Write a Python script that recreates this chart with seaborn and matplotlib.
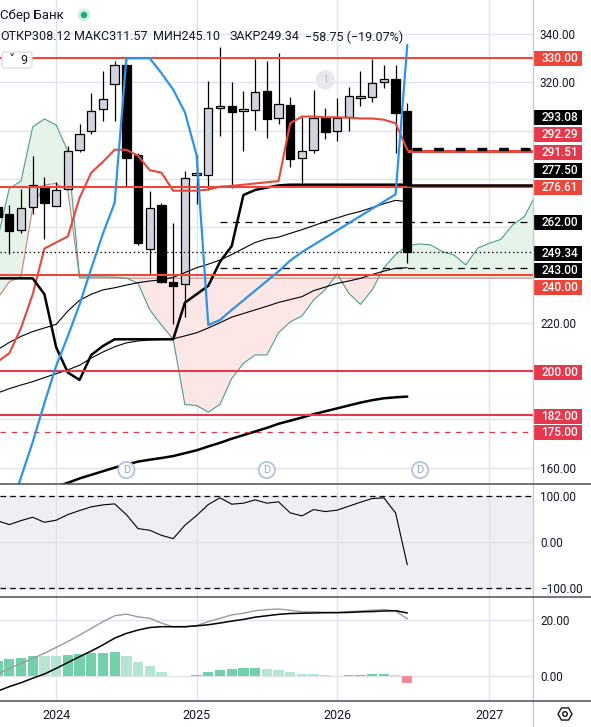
import numpy as np
import pandas as pd
import matplotlib
matplotlib.use("Agg")
import matplotlib.pyplot as plt
import matplotlib.transforms as mtransforms
from matplotlib.patches import Rectangle, Circle, FancyBboxPatch, RegularPolygon
import seaborn as sns

# ---------------- data ----------------
opens  = [268.4, 265.2, 258.7, 268.1, 276.8, 268.7, 275.6, 291.8, 299.7, 309.0, 319.5, 327.2,
          289.9, 250.6, 268.9, 237.0, 236.4, 281.5, 281.5, 309.5, 310.2, 308.3, 308.4, 316.4,
          305.1, 310.6, 288.5, 291.8, 305.1, 300.0, 305.5, 313.6, 314.1, 320.1, 321.4, 308.12]
highs  = [269.5, 269.1, 275.6, 289.4, 280.6, 278.8, 293.6, 302.7, 315.6, 324.9, 328.9, 330.2,
          290.5, 274.8, 270.0, 261.5, 283.2, 289.9, 320.6, 334.8, 320.1, 316.4, 329.5, 328.9,
          332.1, 313.8, 305.8, 316.9, 309.5, 313.4, 318.2, 324.9, 329.6, 327.2, 327.2, 311.57]
lows   = [263.0, 248.6, 257.3, 265.2, 254.8, 268.7, 275.6, 291.0, 298.7, 304.0, 304.0, 276.7,
          252.5, 240.0, 236.5, 219.5, 222.7, 269.4, 275.3, 297.9, 276.0, 291.6, 300.2, 297.0,
          302.7, 285.0, 278.1, 290.6, 296.5, 295.8, 300.0, 310.3, 312.0, 317.6, 290.6, 245.10]
closes = [264.2, 258.4, 268.0, 277.3, 269.8, 275.4, 291.6, 298.5, 308.0, 313.1, 327.1, 288.7,
          253.2, 268.0, 237.2, 235.6, 280.4, 282.4, 309.3, 309.9, 307.8, 308.6, 315.9, 304.7,
          310.9, 288.1, 291.4, 305.1, 299.5, 305.1, 314.2, 314.0, 319.6, 321.4, 307.4, 249.34]

kijun = [204.0, 207.5, 218.0, 232.0, 251.0, 253.5, 256.0, 272.0, 282.5, 287.0, 292.0, 292.0,
         289.5, 283.5, 282.5, 275.0, 275.0, 275.0, 275.5, 276.7, 277.0, 277.5, 278.0, 278.5,
         279.0, 303.0, 305.8, 305.8, 305.5, 305.5, 305.3, 305.0, 305.0, 304.5, 303.0, 292.0]
tenkan = [238.6, 238.6, 238.6, 238.6, 232.0, 210.0, 199.5, 196.4, 206.8, 210.5, 213.3, 213.3,
          213.3, 213.3, 213.3, 213.3, 228.5, 232.0, 235.5, 245.5, 252.0, 273.2, 275.3, 276.3,
          277.2, 277.5, 277.5, 277.5, 277.5, 277.5, 277.5, 277.5, 277.5, 277.5, 277.5, 277.5]
blue_line = [np.nan, 141.5, 156.0, 170.6, 186.8, 202.2, 214.6, 227.7, 242.7, 257.2, 270.0, 330.0,
             330.0, 330.0, 323.8, 317.0, 307.6, 289.8, 219.2, 221.3, 225.5, 229.5, 233.5, 237.5,
             241.5, 246.0, 249.5, 252.5, 255.5, 258.5, 261.5, 264.5, 267.5, 270.5, 273.5, 335.5]
ma_fast = [209.0, 212.0, 214.5, 216.5, 218.0, 219.5, 225.0, 229.5, 232.0, 233.8, 234.7, 235.8,
           236.8, 237.5, 238.0, 239.0, 241.0, 243.0, 244.5, 246.2, 248.5, 251.0, 253.5, 255.0,
           255.7, 257.3, 258.8, 260.5, 262.2, 263.7, 265.2, 266.4, 268.0, 269.6, 271.0, 270.4]
ma_mid = [191.0, 192.8, 194.3, 195.7, 197.4, 199.0, 200.6, 202.5, 205.5, 208.0, 210.2, 211.8,
          212.6, 213.0, 213.2, 213.5, 214.7, 216.0, 218.0, 220.2, 222.5, 224.0, 225.5, 227.0,
          228.6, 229.8, 231.0, 233.5, 235.0, 236.5, 237.5, 238.6, 240.2, 241.6, 242.8, 243.0]
ma_slow = [np.nan, np.nan, np.nan, np.nan, np.nan, 152.0, 153.7, 155.5, 157.0, 158.5, 160.0, 161.3,
           162.5, 163.3, 164.0, 164.8, 166.0, 167.2, 168.8, 170.3, 172.0, 173.5, 175.0, 176.5,
           178.2, 179.5, 180.8, 182.2, 183.4, 184.6, 185.8, 187.0, 188.0, 188.8, 189.2, 189.5]
span_a = [255.0, 276.0, 279.0, 301.5, 304.8, 302.3, 291.5, 239.2, 239.2, 239.2, 239.1, 238.7,
          236.5, 225.5, 219.2, 213.3, 186.2, 185.8, 183.0, 186.3, 197.0, 203.3, 206.8, 206.8,
          216.0, 220.5, 223.0, 229.6, 234.0, 240.5, 232.4, 227.8, 233.8, 243.0, 248.5, 252.2,
          252.9, 252.5, 249.7, 248.3, 244.2, 251.1, 253.2, 254.8, 260.8, 264.2, 273.5]
span_b = [230.3, 237.2, 239.3, 268.0, 277.4, 278.0, 275.0] + [238.7] * 40

cci = [46.0, 37.8, 46.5, 53.8, 42.9, 47.3, 59.6, 68.4, 76.4, 80.7, 82.9, 59.6, 29.1, 25.5, 14.5,
       7.3, 36.4, 57.5, 81.5, 96.0, 82.2, 84.4, 91.6, 84.4, 87.3, 63.3, 56.7, 70.5, 66.2, 69.1,
       77.8, 86.5, 94.5, 96.0, 63.3, -49.5]
macd_hist = [5.4, 6.2, 6.5, 7.3, 7.28, 7.25, 7.6, 8.0, 8.1, 8.3, 8.7, 7.3, 5.1, 3.7, 1.5, -0.15,
             0.1, 0.36, 1.4, 2.1, 2.6, 2.9, 3.0, 2.6, 2.3, 1.5, 0.7, 0.68, 0.36, 0.1, 0.36, 0.4,
             0.7, 0.72, 0.36, -2.4]
macd_line = [0.6, 2.7, 4.5, 6.3, 8.1, 10.2, 12.3, 14.6, 17.0, 19.4, 21.5, 22.1, 21.1, 20.6, 18.9,
             17.5, 17.5, 18.0, 19.4, 20.6, 21.8, 22.4, 23.3, 23.7, 23.9, 23.5, 22.9, 22.9, 22.7,
             22.7, 23.0, 23.2, 23.5, 23.7, 23.2, 20.4]
macd_signal = [-5.4, -3.8, -2.4, -0.8, 0.7, 2.7, 4.8, 6.9, 8.9, 11.1, 13.5, 15.2, 16.4, 17.3, 17.6,
               17.6, 17.6, 17.9, 18.3, 18.9, 19.6, 20.2, 21.0, 21.5, 22.0, 22.3, 22.4, 22.5, 22.6,
               22.6, 22.7, 22.9, 23.0, 23.2, 23.3, 22.5]

year_labels = ["2024", "2025", "2026", "2027"]
year_pos = [5, 17, 29, 42]

red_levels_a = [330.0, 276.61, 240.0]
red_levels_b = [200.0, 182.0]
red_dashed_level = 175.0
black_dashed_levels = [262.0, 243.0]
last_price = 249.34
kijun_level = 291.51
black_kijun_level = 292.29
tenkan_level = 277.5

tag_texts = ["330.00", "293.08", "292.29", "291.51", "277.50", "276.61", "262.00",
             "249.34", "243.00", "240.00", "200.00", "182.00", "175.00"]
tag_kind = ["a", "k", "b", "b", "k", "a", "k", "k", "k", "a", "b", "b", "b"]
tag_at = [330.0, 305.35, 298.16, 290.98, 283.2, 276.27, 261.73, 249.0, 241.8, 234.7,
          199.6, 181.4, 174.5]

div_pos = [11, 23, 36.1]
header_name = "Сбер Банк"
header_items = ["ОТКР308.12", "МАКС311.57", "МИН245.10", "ЗАКР249.34", "−58.75 (−19.07%)"]

# ---------------- style ----------------
sns.set_theme(style="white")
plt.rcParams["font.family"] = ["Roboto", "DejaVu Sans"]
plt.rcParams["lines.scale_dashes"] = False
plt.rcParams["axes.unicode_minus"] = True

RED_A = "#f0453a"
RED_B = "#e5384c"
BLACK = "#000000"
GRID = "#e0e3eb"
TXT = "#131722"

W, H = 591, 727
fig = plt.figure(figsize=(W / 100, H / 100), dpi=100)
fig.patch.set_facecolor("white")


def axrect(x0, y0, x1, y1):
    return [x0 / W, 1 - y1 / H, (x1 - x0) / W, (y1 - y0) / H]


ax = fig.add_axes(axrect(0, 0, 533, 484))
ax2 = fig.add_axes(axrect(0, 484, 533, 597), sharex=ax)
ax3 = fig.add_axes(axrect(0, 597, 533, 701), sharex=ax)

idx = np.arange(len(opens))
cidx = np.arange(len(span_a))


def line(a, x, y, **kw):
    sns.lineplot(x=x, y=np.asarray(y, dtype=float), ax=a, estimator=None, sort=False,
                 legend=False, **kw)


for a in (ax, ax2, ax3):
    a.set_facecolor("white")
    for s in a.spines.values():
        s.set_visible(False)
    a.yaxis.tick_right()
    a.tick_params(axis="both", length=0, labelsize=8.5, colors=TXT, pad=5)
    a.grid(True, color=GRID, lw=1)
    a.set_axisbelow(True)

# ---------------- main panel ----------------
A = np.array(span_a)
B = np.array(span_b)
ax.fill_between(cidx, A, B, where=A >= B, interpolate=True, color="#e6f3e9", lw=0, zorder=1)
ax.fill_between(cidx, A, B, where=A < B, interpolate=True, color="#fde6e6", lw=0, zorder=1)
line(ax, cidx, span_b, color="#c0857a", lw=0.8, zorder=1.5)
line(ax, cidx, span_a, color="#4f9c89", lw=0.8, zorder=1.5)

# candles (below indicator lines, as in the reference)
o = np.array(opens); c = np.array(closes)
bull = c >= o
bottoms = np.minimum(o, c)
heights = np.maximum(np.abs(c - o), 0.8)
ax.vlines(idx, lows, highs, color=BLACK, lw=0.9, zorder=2)
ax.bar(idx, heights, bottom=bottoms, width=0.71,
       color=np.where(bull, "#d1d4dc", BLACK), edgecolor=BLACK, linewidth=0.9, zorder=2.2)

line(ax, idx, ma_slow, color=BLACK, lw=1.8, zorder=3)
line(ax, idx, ma_mid, color=BLACK, lw=0.8, zorder=3)
line(ax, idx, ma_fast, color=BLACK, lw=0.8, zorder=3)
line(ax, idx, kijun, color="#e8473b", lw=1.5, zorder=3.2)
line(ax, idx, tenkan, color=BLACK, lw=1.8, zorder=3.3)

# levels
xr = 46.5
for lv in red_levels_a:
    ax.axhline(lv, color=RED_A, lw=1.5, zorder=6)
for lv in red_levels_b:
    ax.axhline(lv, color=RED_B, lw=1.5, zorder=6)
ax.axhline(red_dashed_level, color=RED_B, lw=0.9, ls=(0, (4, 4)), zorder=6)
for lv in black_dashed_levels:
    ax.hlines(lv, 19, xr, color=BLACK, lw=0.9, linestyles=[(0, (5, 4))], zorder=6)
ax.axhline(last_price, color=BLACK, lw=0.9, ls=(0, (1, 2)), zorder=6)
ax.hlines(tenkan_level, len(opens) - 1, xr, color=BLACK, lw=1.8, zorder=6)
ax.hlines(kijun_level, len(opens) - 1, xr, color="#e8473b", lw=2.2, zorder=6)
ax.hlines(black_kijun_level, len(opens) - 0.6, xr, color=BLACK, lw=2.4,
          linestyles=[(0, (7, 8.6))], zorder=7)

line(ax, idx, blue_line, color="#2e93e6", lw=1.6, zorder=7.5)

# markers (dividends / idea)
for p in div_pos:
    ax.text(p, 159.0, "D", ha="center", va="center", fontsize=8, color="#93a9cc",
            bbox=dict(boxstyle="circle,pad=0.28", fc="white", ec="#b3c3dc", lw=1.3), zorder=8)
ax.text(28, 321.0, "I", ha="center", va="center", fontsize=7.5, color="#b0b5c0",
        bbox=dict(boxstyle="circle,pad=0.45", fc="#e7e9ee", ec="none"), zorder=8)

ax.set_xlim(0.205, 45.74)
ax.set_ylim(153.2, 354.2)
yt = np.arange(160, 341, 20)
ax.set_yticks(yt)
ax.set_yticklabels([f"{v:.2f}" if v in (160, 220, 320, 340) else "" for v in yt])
ax.set_xticks(year_pos)
ax.tick_params(labelbottom=False)
ax.set_xlabel(""); ax.set_ylabel("")

# price tags
trans = mtransforms.blended_transform_factory(ax.transAxes, ax.transData)
tag_h = 15 / 2.407
for t, k, p in zip(tag_texts, tag_kind, tag_at):
    col = {"a": RED_A, "b": RED_B, "k": BLACK}[k]
    ax.add_patch(Rectangle((1 + 1 / 533, p - tag_h / 2), 48 / 533, tag_h, transform=trans,
                           fc=col, ec="none", clip_on=False, zorder=20))
    ax.text(1 + 8 / 533, p, t, transform=trans, ha="left", va="center", color="white",
            fontsize=8.5, fontweight="medium", clip_on=False, zorder=21)

# ---------------- CCI panel ----------------
ax2.axhspan(-100, 100, color="#eeeff3", zorder=0.3, lw=0)
ax2.axhline(100, color=BLACK, lw=0.9, ls=(0, (4, 3)), zorder=2)
ax2.axhline(-100, color=BLACK, lw=0.9, ls=(0, (4, 3)), zorder=2)
line(ax2, idx, cci, color=BLACK, lw=0.8, zorder=3)
ax2.set_ylim(-119.6, 126.1)
ax2.set_yticks([-100, 0, 100])
ax2.set_yticklabels(["−100.00", "0.00", "100.00"])
ax2.tick_params(labelbottom=False)
ax2.set_xlabel(""); ax2.set_ylabel("")

# ---------------- MACD panel ----------------
hist = np.array(macd_hist)
prev = np.concatenate([[hist[0] - 1], hist[:-1]])
cols = np.where(hist >= 0, np.where(hist >= prev, "#74d0ab", "#b5e6d3"),
                np.where(hist >= prev, "#f7c3ca", "#ec8d99"))
ax3.bar(idx, hist, width=0.88, color=cols, lw=0, zorder=2)
line(ax3, idx, macd_line, color="#9a9a9a", lw=1.0, zorder=3)
line(ax3, idx, macd_signal, color=BLACK, lw=1.1, zorder=3)
ax3.set_ylim(-8.93, 28.2)
ax3.set_yticks([0, 20])
ax3.set_yticklabels(["0.00", "20.00"])
ax3.set_xticks(year_pos)
ax3.set_xticklabels(year_labels)
ax3.tick_params(axis="x", labelsize=9, pad=6)
ax3.set_xlabel(""); ax3.set_ylabel("")
ax.set_xlim(0.205, 45.74)

# ---------------- overlay (frame, header) ----------------
ov = fig.add_axes([0, 0, 1, 1], zorder=50)
ov.set_xlim(0, W); ov.set_ylim(H, 0)
ov.axis("off")
ov.patch.set_alpha(0)
ov.plot([533, 533], [0, H], color="#c9ccd4", lw=1)
for yy in (484, 597, 701):
    ov.plot([0, W], [yy, yy], color="#4a4e5a", lw=1.1)

ov.text(0, 15, header_name, ha="left", va="center", fontsize=9.5, color=TXT)
ov.add_patch(Circle((84, 15), 6.5, fc="#d6efe4", ec="none"))
ov.add_patch(Circle((84, 15), 3.3, fc="#22ab78", ec="none"))
for s, xx in zip(header_items, [0, 74, 153, 229, 305]):
    ov.text(xx, 37, s, ha="left", va="center", fontsize=9, color=TXT)

ov.add_patch(FancyBboxPatch((2, 52), 30, 16, boxstyle="round,pad=0,rounding_size=3",
                            fc="white", ec="#d9dce3", lw=1))
ov.text(12, 60, "˅", ha="center", va="center", fontsize=9, color=TXT,
        family=["DejaVu Sans"])
ov.text(24, 60, "9", ha="center", va="center", fontsize=9, color=TXT)

ov.add_patch(RegularPolygon((565, 714), 6, radius=7, orientation=np.pi / 6,
                            fc="none", ec=TXT, lw=1))
ov.add_patch(Circle((565, 714), 2.3, fc="none", ec=TXT, lw=1))

fig.savefig("out.png", dpi=100, facecolor="white")
